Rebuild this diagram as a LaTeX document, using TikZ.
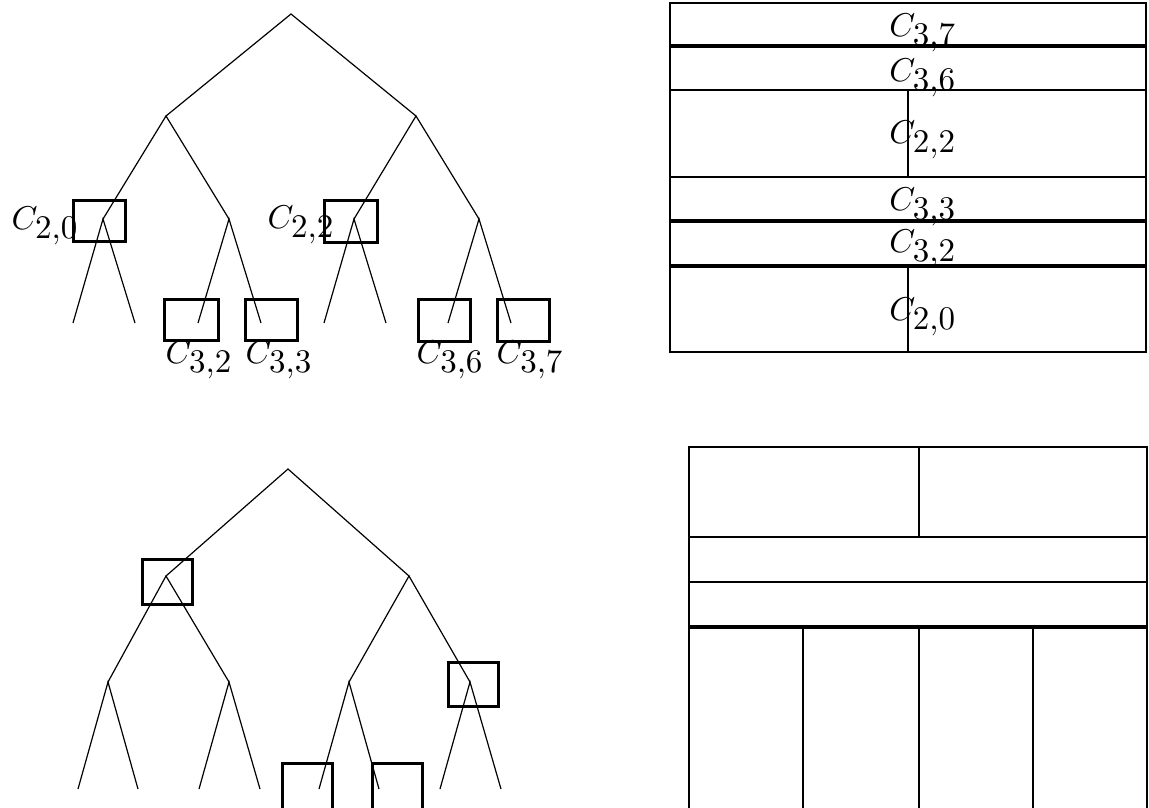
\documentclass[tikz,border=0pt]{standalone}
\tikzset{
  edge/.style={line width=1.2pt},
  cbox/.style={draw, line width=3pt, rectangle, inner sep=0pt},
  panel/.style={line width=2.8pt},
  thickpanel/.style={line width=3.6pt},
  lab/.style={inner sep=0pt, scale=3.3},
}
\newcommand{\Cl}[2]{$C_{\textstyle #1{,}#2}$}
\begin{document}
\begin{tikzpicture}[x=1pt,y=-1pt]
\useasboundingbox[fill=white] (0,0) rectangle (1149,807);
% ---------- top-left tree ----------
\coordinate (r) at (291,14);
\coordinate (a0) at (166,116);
\coordinate (a1) at (416,116);
\coordinate (b0) at (103,219);
\coordinate (b1) at (229,219);
\coordinate (b2) at (354,219);
\coordinate (b3) at (479,219);
\foreach \i/\x in {0/73,1/135,2/198,3/261,4/324,5/386,6/448,7/511}
  \coordinate (c\i) at (\x,323);
\draw[edge] (a0) -- (r) -- (a1);
\draw[edge] (b0) -- (a0) -- (b1);
\draw[edge] (b2) -- (a1) -- (b3);
\draw[edge] (c0) -- (b0) -- (c1);
\draw[edge] (c2) -- (b1) -- (c3);
\draw[edge] (c4) -- (b2) -- (c5);
\draw[edge] (c6) -- (b3) -- (c7);
\node[cbox, minimum width=52pt, minimum height=41pt] (B20) at (99,220.5) {};
\node[cbox, minimum width=53pt, minimum height=42pt] (B22) at (350.5,221) {};
\node[cbox, minimum width=54pt, minimum height=41pt] (B32) at (191,319.5) {};
\node[cbox, minimum width=52pt, minimum height=41pt] (B33) at (271,319.5) {};
\node[cbox, minimum width=52pt, minimum height=42pt] (B36) at (444,320) {};
\node[cbox, minimum width=52pt, minimum height=42pt] (B37) at (523,320) {};
\node[lab, anchor=base west] (L20) at (11,229) {\Cl{2}{0}};
\node[lab, anchor=base west] (L22) at (267,228) {\Cl{2}{2}};
\node[lab, anchor=base west] (L32) at (165,363) {\Cl{3}{2}};
\node[lab, anchor=base west] (L33) at (245,363) {\Cl{3}{3}};
\node[lab, anchor=base west] (L36) at (416,363) {\Cl{3}{6}};
\node[lab, anchor=base west] (L37) at (496,363) {\Cl{3}{7}};
% ---------- top-right panel ----------
\draw[panel] (670,3) rectangle (1146,352);
\draw[thickpanel] (670,46) -- (1146,46);
\draw[panel] (670,90) -- (1146,90);
\draw[panel] (670,177) -- (1146,177);
\draw[thickpanel] (670,221) -- (1146,221);
\draw[thickpanel] (670,266) -- (1146,266);
\draw[panel] (908,90) -- (908,177);
\draw[panel] (908,266) -- (908,352);
\node[lab, anchor=base] (R37) at (923,36) {\Cl{3}{7}};
\node[lab, anchor=base] (R36) at (923,81) {\Cl{3}{6}};
\node[lab, anchor=base] (R22) at (923,143) {\Cl{2}{2}};
\node[lab, anchor=base] (R33) at (923,210) {\Cl{3}{3}};
\node[lab, anchor=base] (R32) at (923,252) {\Cl{3}{2}};
\node[lab, anchor=base] (R20) at (923,320) {\Cl{2}{0}};
% ---------- bottom-left tree ----------
\coordinate (s) at (288,469);
\coordinate (d0) at (166,576);
\coordinate (d1) at (409,576);
\coordinate (e0) at (108,682);
\coordinate (e1) at (229,682);
\coordinate (e2) at (349,682);
\coordinate (e3) at (470,682);
\foreach \i/\x in {0/78,1/138,2/199,3/260,4/319,5/379,6/440,7/501}
  \coordinate (f\i) at (\x,789);
\draw[edge] (d0) -- (s) -- (d1);
\draw[edge] (e0) -- (d0) -- (e1);
\draw[edge] (e2) -- (d1) -- (e3);
\draw[edge] (f0) -- (e0) -- (f1);
\draw[edge] (f2) -- (e1) -- (f3);
\draw[edge] (f4) -- (e2) -- (f5);
\draw[edge] (f6) -- (e3) -- (f7);
\node[cbox, minimum width=50pt, minimum height=45pt] (D0) at (167,581.5) {};
\node[cbox, minimum width=50pt, minimum height=44pt] (E3) at (473,684) {};
\node[cbox, minimum width=50pt, minimum height=60pt] (F4) at (307,793) {};
\node[cbox, minimum width=50pt, minimum height=60pt] (F5) at (397,793) {};
% ---------- bottom-right panel ----------
\draw[panel] (689,812) -- (689,447) -- (1147,447) -- (1147,812);
\draw[panel] (689,537) -- (1147,537);
\draw[panel] (689,582) -- (1147,582);
\draw[thickpanel] (689,627) -- (1147,627);
\draw[panel] (919,447) -- (919,537);
\draw[panel] (803,627) -- (803,812);
\draw[panel] (919,627) -- (919,812);
\draw[panel] (1033,627) -- (1033,812);
\end{tikzpicture}
\end{document}
